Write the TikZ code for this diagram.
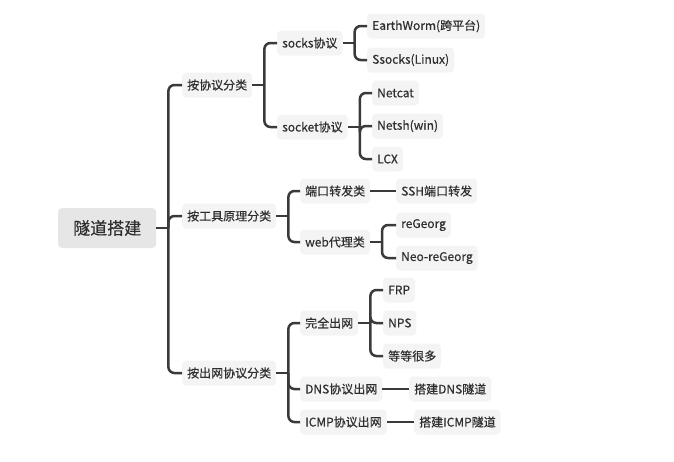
\documentclass[tikz,border=0pt]{standalone}
\usepackage{fontspec}
\setmainfont{Noto Sans CJK SC}[FakeBold=0.3]
\usetikzlibrary{positioning}
\definecolor{boxgray}{HTML}{F4F4F4}
\definecolor{rootgray}{HTML}{E6E6E6}
\definecolor{linegray}{HTML}{3A3A3A}
\definecolor{txtgray}{HTML}{2E2E2E}
\begin{document}
\begin{tikzpicture}[x=1pt, y=-1pt,
 box/.style={fill=boxgray, rounded corners=4pt, anchor=west, inner xsep=5pt, inner ysep=0pt, minimum height=25pt, text=txtgray, font=\fontsize{12}{12}\selectfont},
 rootbox/.style={box, fill=rootgray, inner xsep=15pt, minimum height=40pt, font=\fontsize{17}{17}\selectfont},
 link/.style={draw=linegray, line width=2.5pt, rounded corners=6pt}]
\useasboundingbox (0,0) rectangle (674,461);
\node[rootbox] (root) at (58,228) {隧道搭建};
\foreach \n/\x/\y/\t in {proto/182/85/按协议分类, tool/182/216/按工具原理分类, outnet/182/373/按出网协议分类,
 socks/277/43/socks协议, socket/277/127/socket协议, ew/367/26/EarthWorm(跨平台), ss/367/60/Ssocks(Linux),
 nc/372/93/Netcat, nsh/372/126/Netsh(win), lcx/372/159/LCX,
 port/300/191/端口转发类, web/300/242/web代理类, ssh/396/191/SSH端口转发, reg/396/225/reGeorg, neo/396/258/Neo-reGeorg,
 full/300/323/完全出网, dns/300/389/DNS协议出网, icmp/300/422/ICMP协议出网,
 frp/383/290/FRP, nps/383/323/NPS, more/383/356/等等很多, dnst/409/389/搭建DNS隧道, icmpt/414/422/搭建ICMP隧道}
 {\node[box] (\n) at (\x,\y) {\t};}
% stubs and elbows
\foreach \p in {root, proto, socks, socket, tool, web, outnet, full}
 {\draw[link] (\p.east) -- ++(12,0);}
\foreach \p/\c in {root/proto, root/tool, root/outnet, proto/socks, proto/socket, socks/ew, socks/ss,
 socket/nc, socket/nsh, socket/lcx, tool/port, tool/web, web/reg, web/neo,
 outnet/full, outnet/dns, outnet/icmp, full/frp, full/nps, full/more}
 {\draw[link] ([xshift=12pt]\p.east) |- (\c.west);}
% single children
\foreach \p/\c in {port/ssh, dns/dnst, icmp/icmpt}
 {\draw[link] (\p.east) -- (\c.west);}
\end{tikzpicture}
\end{document}
